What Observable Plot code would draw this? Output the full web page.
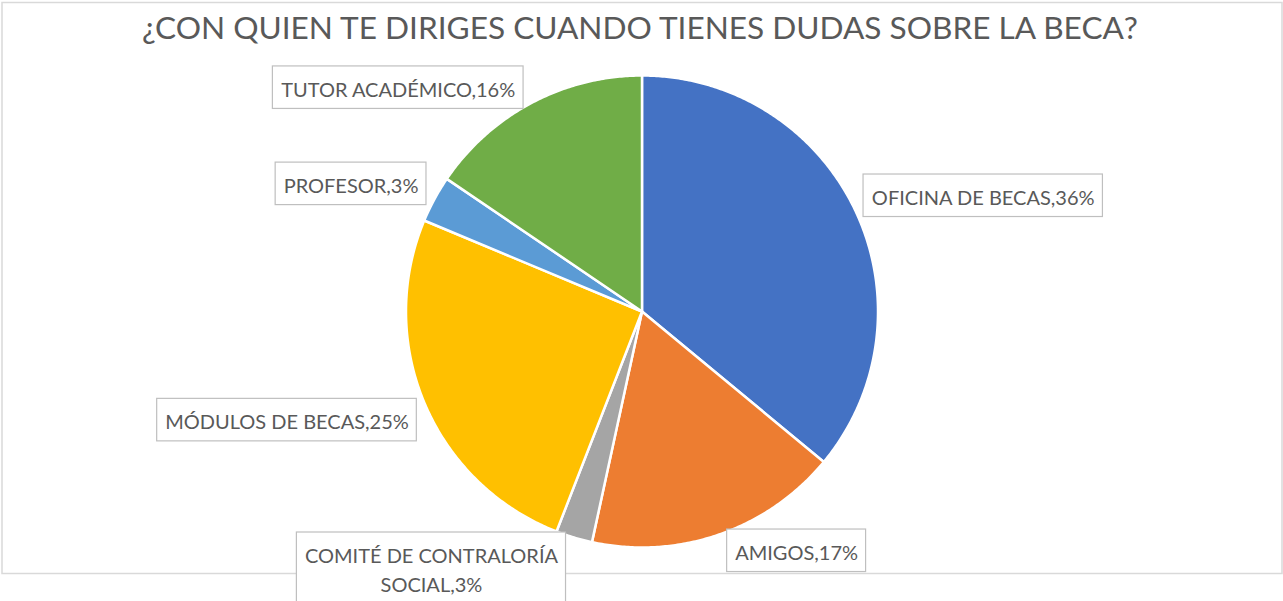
<!DOCTYPE html>
<html><head><meta charset="utf-8">
<script src="https://cdn.jsdelivr.net/npm/d3@7"></script>
<script src="https://cdn.jsdelivr.net/npm/@observablehq/plot@0.6"></script>
<style>html,body{margin:0;padding:0;background:#fff;overflow:hidden}</style>
</head><body><div id="chart"></div>
<script>
// ---- data ----
const title = "¿CON QUIEN TE DIRIGES CUANDO TIENES DUDAS SOBRE LA BECA?";
const categories = ["OFICINA DE BECAS", "AMIGOS", "COMITÉ DE CONTRALORÍA SOCIAL", "MÓDULOS DE BECAS", "PROFESOR", "TUTOR ACADÉMICO"];
const values = [36.0, 17.4, 2.5, 25.4, 3.2, 15.5];
const colors = ["#4472C4", "#ED7D31", "#A5A5A5", "#FFC000", "#5B9BD5", "#70AD47"];

// ---- layout ----
const W = 1283, H = 601, CX = 641.5, CY = 311, R = 236;
const FONT = "Lato, 'Open Sans', sans-serif";
const LABEL_SIZE = 20, TITLE_SIZE = 31.6;
const TEXT_COLOR = "#595959";
const PAD_X = 8, GAP_X = 8, OVER_Y = 6, BOX_H = 42.5, LINE_H = 29, BASE = 30.5, MAX_W = 300;

const canvas = document.createElement("canvas");
const ctx = canvas.getContext("2d");
ctx.font = `${LABEL_SIZE}px ${FONT}`;
const measure = s => ctx.measureText(s).width;

const arcs = d3.pie().sort(null).value(d => d)(values);

const slices = arcs.map((a, i) => {
  const pts = [{x: 0, y: 0}];
  const n = Math.max(2, Math.ceil((a.endAngle - a.startAngle) / (Math.PI / 360)));
  for (let k = 0; k <= n; k++) {
    const t = a.startAngle + (a.endAngle - a.startAngle) * k / n;
    pts.push({x: Math.sin(t), y: Math.cos(t)});
  }
  pts.push({x: 0, y: 0});
  return {i, pts};
});

function wrap(text) {
  const words = text.split(" ");
  const lines = [];
  let cur = "";
  for (const w of words) {
    const t = cur ? cur + " " + w : w;
    if (cur && measure(t) > MAX_W) { lines.push(cur); cur = w; } else cur = t;
  }
  lines.push(cur);
  return lines;
}

const boxes = [], textLines = [];
arcs.forEach((a, i) => {
  const label = categories[i] + "," + Math.round(values[i]) + "%";
  const lines = wrap(label);
  const bw = d3.max(lines, measure) + 2 * PAD_X;
  const bh = BOX_H + LINE_H * (lines.length - 1);
  const mid = (a.startAngle + a.endAngle) / 2;
  const ex = Math.sin(mid), ey = Math.cos(mid);
  let x1, x2, yt, yb;
  if (ex >= 0) { x1 = ex + GAP_X / R; x2 = x1 + bw / R; }
  else { x2 = ex - GAP_X / R; x1 = x2 - bw / R; }
  if (ey > 0) { yb = ey - OVER_Y / R; yt = yb + bh / R; }
  else { yt = ey + (OVER_Y - 1) / R; yb = yt - bh / R; }
  boxes.push({x1, x2, y1: yb, y2: yt});
  lines.forEach((s, j) => textLines.push({x: (x1 + x2) / 2, y: yt - (BASE + LINE_H * j) / R, text: s}));
});

const marks = [
  Plot.frame({stroke: "#d9d9d9", strokeWidth: 1.5, insetLeft: 1.5, insetTop: 2, insetRight: 1.5, insetBottom: 28}),
  ...slices.map(s => Plot.line(s.pts, {x: "x", y: "y", fill: colors[s.i], stroke: "white", strokeWidth: 2.5, strokeLinejoin: "round"})),
  Plot.rect(boxes, {x1: "x1", x2: "x2", y1: "y1", y2: "y2", fill: "white", stroke: "#bfbfbf", strokeWidth: 1.2}),
  Plot.text(textLines, {x: "x", y: "y", text: "text", textAnchor: "middle", lineAnchor: "bottom", fontSize: LABEL_SIZE, fill: TEXT_COLOR}),
  Plot.text([title], {frameAnchor: "top", lineAnchor: "bottom", dy: 38, dx: -2, fontSize: TITLE_SIZE, fill: TEXT_COLOR})
];

const chart = Plot.plot({
  width: W, height: H,
  margin: 0,
  x: {domain: [-CX / R, (W - CX) / R], range: [0, W], axis: null},
  y: {domain: [-(H - CY) / R, CY / R], range: [H, 0], axis: null},
  style: {fontFamily: FONT, background: "white", overflow: "hidden"},
  marks
});
document.getElementById("chart").appendChild(chart);
</script>
</body></html>
